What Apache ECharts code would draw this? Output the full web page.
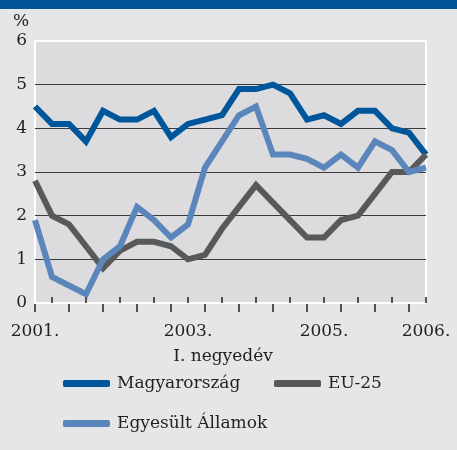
<!DOCTYPE html>
<html>
<head>
<meta charset="utf-8">
<title>Magyarország, EU-25, Egyesült Államok</title>
<script src="https://cdn.jsdelivr.net/npm/echarts@6/dist/echarts.min.js"></script>
<style>
	html, body { margin: 0; padding: 0; background: #e5e6e8; }
	#cont1 { width: 457px; height: 450px; }
</style>
</head>
<body>
<div id="cont1"></div>
<script>
// negyedéves pontok (24 db)
var periods = ['01', '02', '03', '04', '05', '06', '07', '08', '09', '10', '11', '12',
	'13', '14', '15', '16', '17', '18', '19', '20', '21', '22', '23', '24'];
// feliratok helye es szovege
var labelAt = [0, 9, 17, 23];
var labelText = ['2001.', '2003.', '2005.', '2006.'];
var yTicks = [0, 1, 2, 3, 4, 5, 6];

var magyar = [4.5, 4.1, 4.1, 3.7, 4.4, 4.2, 4.2, 4.4, 3.8, 4.1, 4.2, 4.3,
	4.9, 4.9, 5.0, 4.8, 4.2, 4.3, 4.1, 4.4, 4.4, 4.0, 3.9, 3.4];
var eu25 = [2.8, 2.0, 1.8, 1.3, 0.8, 1.2, 1.4, 1.4, 1.3, 1.0, 1.1, 1.7,
	2.2, 2.7, 2.3, 1.9, 1.5, 1.5, 1.9, 2.0, 2.5, 3.0, 3.0, 3.4];
var usa = [1.9, 0.6, 0.4, 0.2, 1.0, 1.3, 2.2, 1.9, 1.5, 1.8, 3.1, 3.7,
	4.3, 4.5, 3.4, 3.4, 3.3, 3.1, 3.4, 3.1, 3.7, 3.5, 3.0, 3.1];

var font = 'DejaVu Serif';
var txt = '#231f20';
var tickColor = '#231f20';

var myChart = echarts.init(document.getElementById('cont1'));

function legendItem(name, left, top) {
	return {
		data: [name],
		left: left,
		top: top,
		padding: 0,
		icon: 'roundRect',
		itemWidth: 47,
		itemHeight: 7,
		itemGap: 0,
		selectedMode: false,
		textStyle: { fontFamily: font, fontSize: 17, color: txt, padding: [0, 0, 0, 2] }
	};
}

// osztasjelek: paros pont lefele, paratlan felfele
function tickItem(params, api) {
	var i = api.value(0);
	var p = api.coord([i, 0]);
	var y1 = i % 2 === 0 ? p[1] + 1 : p[1] - 6;
	var y2 = i % 2 === 0 ? p[1] + 9 : p[1];
	return {
		type: 'line',
		shape: { x1: p[0], y1: y1, x2: p[0], y2: y2 },
		style: { stroke: tickColor, lineWidth: 1.5 }
	};
}

var option = {
	backgroundColor: '#e5e6e8',
	animation: false,
	grid: {
		left: 35,
		right: 31,
		top: 41,
		bottom: 147,
		show: true,
		backgroundColor: '#dcdcde',
		borderColor: '#ffffff',
		borderWidth: 2
	},
	graphic: [
		{ type: 'rect', left: 0, top: 0, shape: { width: 457, height: 9 }, style: { fill: '#005596' } },
		{ type: 'text', x: 13, y: 13, style: { text: '%', fontFamily: font, fontSize: 17, fill: txt } },
		{ type: 'text', x: 223, y: 348, style: { text: 'I. negyedév', fontFamily: font, fontSize: 17, fill: txt, align: 'center' } }
	],
	legend: [
		legendItem('Magyarország', 63, 375),
		legendItem('EU-25', 274, 375),
		legendItem('Egyesült Államok', 63, 415)
	],
	xAxis: {
		type: 'category',
		data: periods,
		boundaryGap: false,
		axisLine: { show: true, lineStyle: { color: '#ffffff', width: 2 } },
		axisTick: { show: false },
		axisLabel: {
			margin: 20,
			fontFamily: font,
			fontSize: 17,
			color: txt,
			interval: function (i) { return labelAt.indexOf(i) >= 0; },
			formatter: function (v, i) {
				var k = labelAt.indexOf(i);
				return k >= 0 ? labelText[k] : '';
			}
		},
		splitLine: { show: false }
	},
	yAxis: {
		type: 'value',
		min: yTicks[0],
		max: yTicks[yTicks.length - 1],
		interval: 1,
		axisLine: { show: false },
		axisTick: { show: false },
		axisLabel: { margin: 8, fontFamily: font, fontSize: 17, color: txt },
		splitLine: {
			show: true,
			showMinLine: false,
			showMaxLine: false,
			lineStyle: { color: '#3c3c3e', width: 1 }
		}
	},
	series: [{
		name: 'ticks',
		type: 'custom',
		z: 1,
		silent: true,
		clip: false,
		renderItem: tickItem,
		data: periods.map(function (p, i) { return [i, 0]; })
	}, {
		name: 'Magyarország',
		type: 'line',
		data: magyar,
		showSymbol: false,
		symbol: 'none',
		z: 3,
		color: '#00569a',
		lineStyle: { width: 6, color: '#00569a', join: 'miter' }
	}, {
		name: 'EU-25',
		type: 'line',
		data: eu25,
		showSymbol: false,
		symbol: 'none',
		z: 3,
		color: '#58595b',
		lineStyle: { width: 6, color: '#58595b', join: 'miter' }
	}, {
		name: 'Egyesült Államok',
		type: 'line',
		data: usa,
		showSymbol: false,
		symbol: 'none',
		z: 3,
		color: '#5b86bb',
		lineStyle: { width: 6, color: '#5b86bb', join: 'miter' }
	}]
};

myChart.setOption(option);

window.addEventListener('resize', function () {
	myChart.resize();
});
</script>
</body>
</html>
